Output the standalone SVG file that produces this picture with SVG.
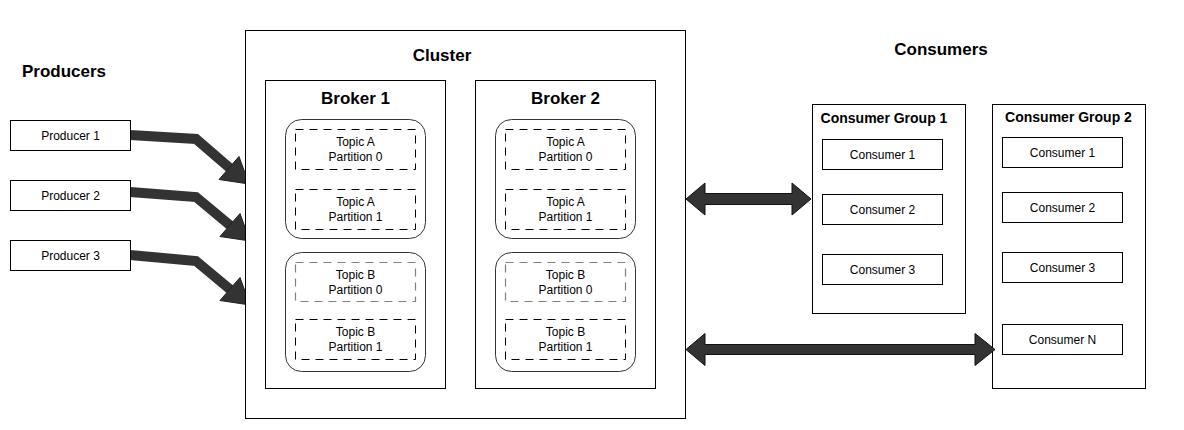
<svg xmlns="http://www.w3.org/2000/svg" width="1184" height="430" viewBox="0 0 1184 430">
<defs>
<style>
text{font-family:"Liberation Sans",Arial,Helvetica,sans-serif;fill:#000;text-anchor:middle}
.h{font-size:17px;font-weight:bold}
.h2{font-size:14px;font-weight:bold}
.t{font-size:12px}
.box{fill:#fff;stroke:#000;stroke-width:1}
.grp{fill:#fff;stroke:#333;stroke-width:1}
.dash{fill:none;stroke:#000;stroke-width:1;stroke-dasharray:8 6}
.dashg{fill:none;stroke:#808080;stroke-width:1.2;stroke-dasharray:8 6}
.shaft{fill:none;stroke:#333;stroke-width:10;stroke-linejoin:miter}
.head{fill:#333;stroke:#222;stroke-width:1}
.dbl{fill:#333;stroke:#111;stroke-width:1;stroke-linejoin:miter}
</style>
</defs>
<rect width="1184" height="430" fill="#fff"/>

<g id="labels">
<text class="h" x="64" y="77">Producers</text>
<text class="h" x="941" y="55">Consumers</text>
</g>

<g id="connectors">
<path class="shaft" d="M130,135 L196,139 L232,170"/>
<polygon class="head" points="219,179.5 239,156.5 249,184"/>
<path class="shaft" d="M130,192 L196,197 L232,227"/>
<polygon class="head" points="220,236.5 240,213.5 250,241"/>
<path class="shaft" d="M130,255 L196,261 L232,291"/>
<polygon class="head" points="220,300.5 240,277.5 250,305"/>
</g>

<g id="cluster">
<rect class="box" x="245.5" y="30.5" width="440" height="388"/>
<text class="h" x="442" y="61">Cluster</text>
</g>

<g id="broker1">
<rect class="box" x="265.5" y="80.5" width="180" height="308"/>
<text class="h" x="355.5" y="104">Broker 1</text>
<rect class="grp" x="285.5" y="119.5" width="140" height="119" rx="16"/>
<rect class="dash" x="295.5" y="129.5" width="120" height="40"/>
<text class="t" x="355.5" y="146">Topic A</text>
<text class="t" x="355.5" y="161">Partition 0</text>
<rect class="dash" x="295.5" y="189.5" width="120" height="40"/>
<text class="t" x="355.5" y="206">Topic A</text>
<text class="t" x="355.5" y="221">Partition 1</text>
<rect class="grp" x="285.5" y="252.5" width="140" height="119" rx="16"/>
<rect class="dashg" x="295.5" y="262.5" width="120" height="39"/>
<text class="t" x="355.5" y="279">Topic B</text>
<text class="t" x="355.5" y="294">Partition 0</text>
<rect class="dash" x="295.5" y="319.5" width="120" height="40"/>
<text class="t" x="355.5" y="336">Topic B</text>
<text class="t" x="355.5" y="351">Partition 1</text>
</g>

<g id="broker2">
<rect class="box" x="475.5" y="80.5" width="180" height="308"/>
<text class="h" x="565.5" y="104">Broker 2</text>
<rect class="grp" x="495.5" y="119.5" width="140" height="119" rx="16"/>
<rect class="dash" x="505.5" y="129.5" width="120" height="40"/>
<text class="t" x="565.5" y="146">Topic A</text>
<text class="t" x="565.5" y="161">Partition 0</text>
<rect class="dash" x="505.5" y="189.5" width="120" height="40"/>
<text class="t" x="565.5" y="206">Topic A</text>
<text class="t" x="565.5" y="221">Partition 1</text>
<rect class="grp" x="495.5" y="252.5" width="140" height="119" rx="16"/>
<rect class="dashg" x="505.5" y="262.5" width="120" height="39"/>
<text class="t" x="565.5" y="279">Topic B</text>
<text class="t" x="565.5" y="294">Partition 0</text>
<rect class="dash" x="505.5" y="319.5" width="120" height="40"/>
<text class="t" x="565.5" y="336">Topic B</text>
<text class="t" x="565.5" y="351">Partition 1</text>
</g>

<g id="producer1"><rect class="box" x="10.5" y="120.5" width="120" height="30"/><text class="t" x="70.5" y="140">Producer 1</text></g>
<g id="producer2"><rect class="box" x="10.5" y="180.5" width="120" height="30"/><text class="t" x="70.5" y="200">Producer 2</text></g>
<g id="producer3"><rect class="box" x="10.5" y="240.5" width="120" height="30"/><text class="t" x="70.5" y="260">Producer 3</text></g>

<g id="consumer-group-1">
<rect class="box" x="812.5" y="104.5" width="153" height="209"/>
<text class="h2" x="884" y="123">Consumer Group 1</text>
<rect class="box" x="822.5" y="139.5" width="120" height="30"/><text class="t" x="882.5" y="159">Consumer 1</text>
<rect class="box" x="822.5" y="194.5" width="120" height="30"/><text class="t" x="882.5" y="214">Consumer 2</text>
<rect class="box" x="822.5" y="254.5" width="120" height="30"/><text class="t" x="882.5" y="274">Consumer 3</text>
</g>

<g id="consumer-group-2">
<rect class="box" x="992.5" y="104.5" width="153" height="284"/>
<text class="h2" x="1068.5" y="122">Consumer Group 2</text>
<rect class="box" x="1002.5" y="137.5" width="120" height="30"/><text class="t" x="1062.5" y="157">Consumer 1</text>
<rect class="box" x="1002.5" y="192.5" width="120" height="30"/><text class="t" x="1062.5" y="212">Consumer 2</text>
<rect class="box" x="1002.5" y="252.5" width="120" height="30"/><text class="t" x="1062.5" y="272">Consumer 3</text>
<rect class="box" x="1002.5" y="324.5" width="120" height="30"/><text class="t" x="1062.5" y="344">Consumer N</text>
</g>

<g id="connectors-consumers">
<polygon class="dbl" points="686,199 705,183 705,193.5 792,193.5 792,183 811,199 792,215 792,204.5 705,204.5 705,215"/>
<polygon class="dbl" points="686,349.5 705,333.5 705,344.5 975,344.5 975,333.5 995,349.5 975,365.5 975,354.5 705,354.5 705,365.5"/>
</g>
</svg>
